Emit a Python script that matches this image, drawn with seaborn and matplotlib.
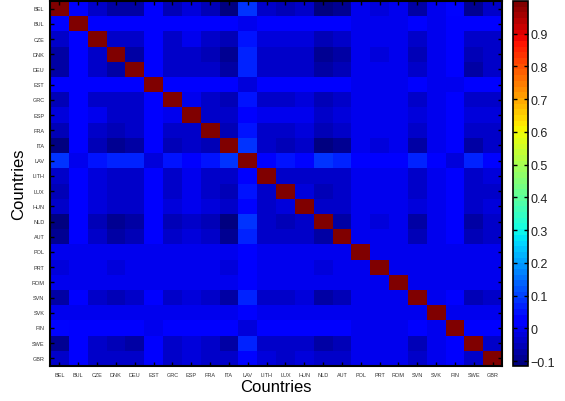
import matplotlib
matplotlib.use("Agg")
import matplotlib.pyplot as plt
import numpy as np
import pandas as pd
import seaborn as sns

countries = ["BEL", "BUL", "CZE", "DNK", "DEU", "EST", "GRC", "ESP", "FRA", "ITA",
             "LAV", "LITH", "LUX", "HUN", "NLD", "AUT", "POL", "PRT", "ROM", "SVN",
             "SVK", "FIN", "SWE", "GBR"]

# upper triangle, row i holds correlations with countries i+1 .. end
upper = [
    # BEL
    [0.01, -0.04, -0.07, -0.07, 0.01, -0.05, -0.02, -0.06, -0.10, 0.08, -0.04,
     -0.05, -0.03, -0.105, -0.09, 0.0, -0.02, 0.0, -0.08, 0.0, 0.04, -0.09, -0.04],
    # BUL
    [0.01, 0.01, 0.01, 0.01, 0.01, 0.01, 0.01, 0.01, 0.0, 0.01,
     0.01, 0.01, 0.01, 0.01, 0.0, 0.0, 0.0, 0.01, 0.0, 0.01, 0.01, 0.01],
    # CZE
    [-0.04, -0.04, 0.01, -0.03, -0.01, -0.03, -0.05, 0.05, -0.02,
     -0.02, -0.02, -0.05, -0.04, 0.0, 0.0, 0.0, -0.03, 0.0, 0.01, -0.04, -0.03],
    # DNK
    [-0.07, 0.01, -0.04, -0.03, -0.05, -0.09, 0.065, -0.04,
     -0.04, -0.04, -0.095, -0.07, 0.0, -0.02, 0.0, -0.05, 0.0, 0.01, -0.06, -0.04],
    # DEU
    [0.01, -0.045, -0.04, -0.045, -0.07, 0.065, -0.04,
     -0.04, -0.04, -0.08, -0.05, 0.0, 0.0, 0.0, -0.04, 0.0, 0.01, -0.065, -0.03],
    # EST
    [0.01, 0.01, 0.01, 0.01, -0.02, 0.01,
     0.01, 0.01, 0.01, 0.01, 0.0, 0.0, 0.0, 0.01, 0.0, -0.005, 0.01, 0.01],
    # GRC
    [-0.01, -0.03, -0.05, 0.045, -0.03,
     -0.03, -0.02, -0.06, -0.04, 0.0, 0.0, 0.0, -0.03, 0.0, 0.01, -0.04, -0.03],
    # ESP
    [-0.03, -0.03, 0.01, -0.01,
     -0.01, -0.01, -0.03, -0.02, 0.0, 0.0, 0.0, -0.02, 0.0, 0.01, -0.02, -0.02],
    # FRA
    [-0.06, 0.055, -0.03,
     -0.04, -0.02, -0.05, -0.04, 0.0, 0.0, 0.0, -0.04, 0.0, 0.01, -0.045, -0.03],
    # ITA
    [0.08, -0.04,
     -0.05, -0.04, -0.11, -0.09, -0.01, -0.02, 0.0, -0.065, 0.0, 0.01, -0.08, -0.04],
    # LAV
    [0.02,
     0.05, 0.03, 0.09, 0.075, 0.02, 0.02, 0.01, 0.06, 0.01, -0.02, 0.065, 0.035],
    # LITH
    [-0.03, -0.03, -0.04, -0.04, 0.0, 0.0, 0.0, -0.03, 0.0, 0.01, -0.03, -0.02],
    # LUX
    [-0.02, -0.05, -0.04, 0.0, 0.0, 0.0, -0.03, 0.0, 0.01, -0.04, -0.03],
    # HUN
    [-0.03, -0.03, 0.0, 0.0, 0.0, -0.02, 0.0, 0.01, -0.03, -0.02],
    # NLD
    [-0.08, 0.0, -0.02, 0.0, -0.065, 0.0, 0.01, -0.08, -0.04],
    # AUT
    [0.0, 0.0, 0.0, -0.06, 0.0, 0.01, -0.06, -0.04],
    # POL
    [0.0, 0.0, 0.0, 0.0, 0.005, 0.0, 0.0],
    # PRT
    [0.0, 0.0, 0.0, 0.005, 0.0, 0.0],
    # ROM
    [0.0, 0.0, 0.005, 0.0, 0.0],
    # SVN
    [0.0, 0.01, -0.05, -0.03],
    # SVK
    [0.005, 0.0, 0.0],
    # FIN
    [0.01, 0.01],
    # SWE
    [-0.03],
]

cbar_ticks = [-0.1, 0, 0.1, 0.2, 0.3, 0.4, 0.5, 0.6, 0.7, 0.8, 0.9]
cbar_labels = ["\u22120.1", "0", "0.1", "0.2", "0.3", "0.4", "0.5", "0.6", "0.7", "0.8", "0.9"]

n = len(countries)
corr = np.eye(n)
for i, row in enumerate(upper):
    for k, v in enumerate(row):
        corr[i, i + 1 + k] = v
        corr[i + 1 + k, i] = v
df = pd.DataFrame(corr, index=countries, columns=countries)

plt.rcParams["font.family"] = ["Liberation Sans", "DejaVu Sans"]

fig = plt.figure(figsize=(5.65, 4.02), dpi=100)
ax = fig.add_axes([50 / 565, 35 / 402, 452 / 565, 365 / 402])
cax = fig.add_axes([513 / 565, 35 / 402, 15 / 565, 365 / 402])

cmap = plt.get_cmap("jet", 64)
sns.heatmap(df, ax=ax, cbar_ax=cax, cmap=cmap, vmin=-0.115, vmax=1.0,
            xticklabels=countries, yticklabels=countries)

for s in ax.spines.values():
    s.set_visible(True)
    s.set_linewidth(1.5)
    s.set_color("black")
ax.tick_params(axis="both", direction="in", length=3, width=1, top=True, right=True,
               labelsize=4, labelcolor="#333333", pad=4)
plt.setp(ax.get_xticklabels(), rotation=0)
plt.setp(ax.get_yticklabels(), rotation=0)
ax.set_xlabel("Countries", fontsize=12, labelpad=2)
ax.set_ylabel("Countries", fontsize=12, labelpad=4)

cbar = ax.collections[0].colorbar
cbar.set_ticks(cbar_ticks)
cbar.set_ticklabels(cbar_labels)
cbar.outline.set_linewidth(1.2)
cbar.outline.set_edgecolor("black")
cax.tick_params(axis="y", direction="in", length=3, width=1, left=True, right=True,
                labelsize=9, labelcolor="#222222", pad=2)

fig.savefig("out.png", dpi=100)
